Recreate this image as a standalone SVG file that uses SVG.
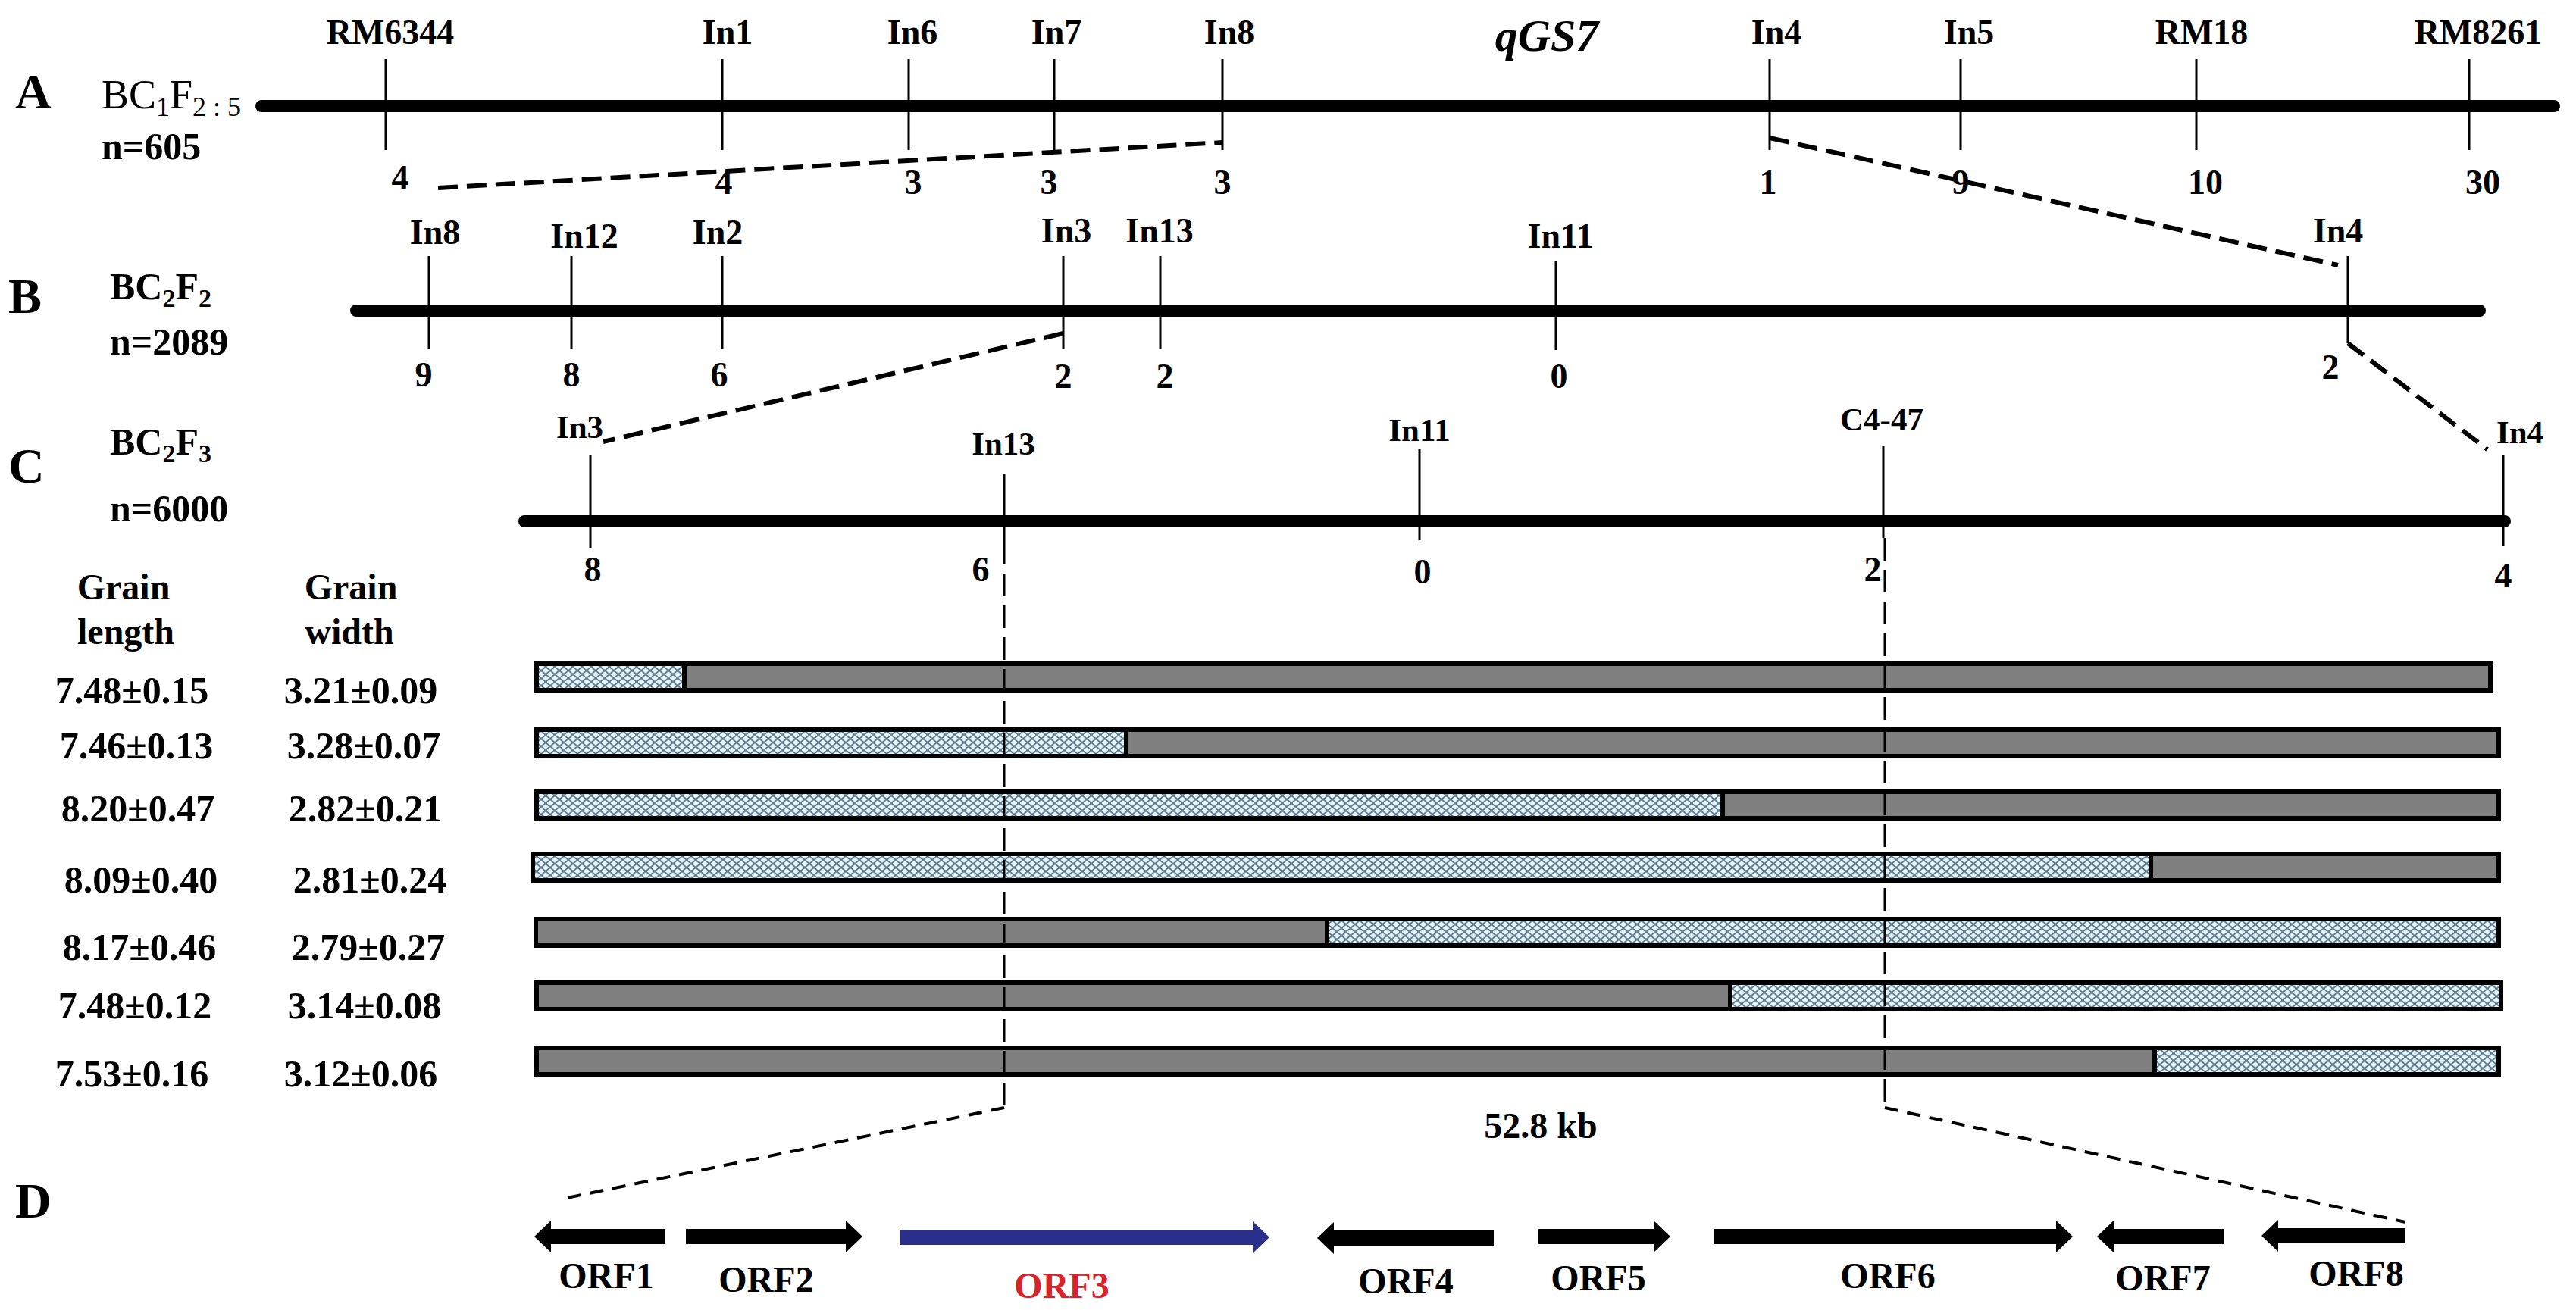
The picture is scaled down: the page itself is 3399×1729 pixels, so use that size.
<svg xmlns="http://www.w3.org/2000/svg" width="3399" height="1729" viewBox="0 0 3399 1729">
<style>
text{font-family:"Liberation Serif","Times New Roman",serif;font-weight:bold;fill:#000}
.lab{font-size:46px;text-anchor:middle}
.labc{font-size:43px;text-anchor:middle}
.num{font-size:46px;text-anchor:middle}
.sec{font-size:66px}
.val{font-size:50px;text-anchor:middle}
.hdr{font-size:48px;text-anchor:middle}
.orf{font-size:48px;text-anchor:middle}
.chrom{stroke:#000;stroke-width:16;stroke-linecap:round;fill:none}
.tick{stroke:#000;stroke-width:3;fill:none}
.dash{stroke:#000;stroke-width:6;stroke-dasharray:26 12;fill:none}
.vdash{stroke:#000;stroke-width:3;stroke-dasharray:30 12;fill:none}
.ddash{stroke:#000;stroke-width:4;stroke-dasharray:18 12;fill:none}
.gray{fill:#7f7f7f;stroke:#000;stroke-width:6}
.hat{fill:url(#hatch);stroke:#000;stroke-width:6}
.arr{fill:#000}
</style>
<defs>
<pattern id="hatch" patternUnits="userSpaceOnUse" width="12" height="10">
<rect width="12" height="10" fill="#e4f4fb"/>
<path d="M0,0 L12,10 M0,10 L12,0" stroke="#5f7a8a" stroke-width="1.8"/>
</pattern>
</defs>
<rect width="3399" height="1729" fill="#fff"/>

<!-- Panel A -->
<g id="panelA-title">
<text class="sec" x="20" y="143">A</text>
<text x="134" y="143" style="font-size:54px;font-weight:normal">BC<tspan dy="10" style="font-size:36px">1</tspan><tspan dy="-10">F</tspan><tspan dy="10" style="font-size:36px">2 : 5</tspan></text>
<text x="134" y="210" style="font-size:50px">n=605</text>
<text x="2041" y="67" style="font-size:60px;font-style:italic;text-anchor:middle">qGS7</text>
</g>
<line id="chromA" class="chrom" x1="345" y1="140" x2="3370" y2="140"/>
<g id="A-RM6344"><line class="tick" x1="509" y1="78" x2="509" y2="198"/><text class="lab" x="515" y="58">RM6344</text><text class="num" x="528" y="250">4</text></g>
<g id="A-In1"><line class="tick" x1="953" y1="78" x2="953" y2="198"/><text class="lab" x="960" y="58">In1</text><text class="num" x="955" y="256">4</text></g>
<g id="A-In6"><line class="tick" x1="1199" y1="78" x2="1199" y2="198"/><text class="lab" x="1204" y="58">In6</text><text class="num" x="1205" y="256">3</text></g>
<g id="A-In7"><line class="tick" x1="1391" y1="78" x2="1391" y2="198"/><text class="lab" x="1394" y="58">In7</text><text class="num" x="1384" y="256">3</text></g>
<g id="A-In8"><line class="tick" x1="1613" y1="78" x2="1613" y2="198"/><text class="lab" x="1622" y="58">In8</text><text class="num" x="1613" y="256">3</text></g>
<g id="A-In4"><line class="tick" x1="2335" y1="78" x2="2335" y2="198"/><text class="lab" x="2344" y="58">In4</text><text class="num" x="2333" y="256">1</text></g>
<g id="A-In5"><line class="tick" x1="2587" y1="78" x2="2587" y2="198"/><text class="lab" x="2598" y="58">In5</text><text class="num" x="2587" y="256">9</text></g>
<g id="A-RM18"><line class="tick" x1="2898" y1="78" x2="2898" y2="198"/><text class="lab" x="2905" y="58">RM18</text><text class="num" x="2910" y="256">10</text></g>
<g id="A-RM8261"><line class="tick" x1="3258" y1="78" x2="3258" y2="198"/><text class="lab" x="3270" y="58">RM8261</text><text class="num" x="3276" y="256">30</text></g>

<!-- Panel B -->
<g id="panelB-title">
<text class="sec" x="11" y="413">B</text>
<text x="145" y="395" style="font-size:50px">BC<tspan dy="10" style="font-size:34px">2</tspan><tspan dy="-10">F</tspan><tspan dy="10" style="font-size:34px">2</tspan></text>
<text x="145" y="468" style="font-size:50px">n=2089</text>
</g>
<line id="chromB" class="chrom" x1="470" y1="410" x2="3272" y2="410"/>
<g id="B-In8"><line class="tick" x1="566" y1="338" x2="566" y2="460"/><text class="lab" x="574" y="322">In8</text><text class="num" x="559" y="510">9</text></g>
<g id="B-In12"><line class="tick" x1="754" y1="338" x2="754" y2="460"/><text class="lab" x="771" y="327">In12</text><text class="num" x="754" y="510">8</text></g>
<g id="B-In2"><line class="tick" x1="953" y1="338" x2="953" y2="460"/><text class="lab" x="947" y="322">In2</text><text class="num" x="949" y="510">6</text></g>
<g id="B-In3"><line class="tick" x1="1403" y1="338" x2="1403" y2="460"/><text class="lab" x="1407" y="320">In3</text><text class="num" x="1403" y="512">2</text></g>
<g id="B-In13"><line class="tick" x1="1531" y1="338" x2="1531" y2="460"/><text class="lab" x="1530" y="320">In13</text><text class="num" x="1537" y="512">2</text></g>
<g id="B-In11"><line class="tick" x1="2053" y1="345" x2="2053" y2="462"/><text class="lab" x="2059" y="327">In11</text><text class="num" x="2057" y="512">0</text></g>
<g id="B-In4"><line class="tick" x1="3098" y1="338" x2="3098" y2="453"/><text class="lab" x="3085" y="320">In4</text><text class="num" x="3075" y="500">2</text></g>

<!-- Panel C -->
<g id="panelC-title">
<text class="sec" x="11" y="637">C</text>
<text x="145" y="600" style="font-size:50px">BC<tspan dy="10" style="font-size:34px">2</tspan><tspan dy="-10">F</tspan><tspan dy="10" style="font-size:34px">3</tspan></text>
<text x="145" y="688" style="font-size:50px">n=6000</text>
</g>
<line id="chromC" class="chrom" x1="692" y1="688" x2="3305" y2="688"/>
<g id="C-In3"><line class="tick" x1="779" y1="600" x2="779" y2="723"/><text class="labc" x="765" y="578">In3</text><text class="num" x="782" y="767">8</text></g>
<g id="C-In13"><line class="tick" x1="1325" y1="625" x2="1325" y2="715"/><text class="labc" x="1324" y="600">In13</text><text class="num" x="1294" y="767">6</text></g>
<g id="C-In11"><line class="tick" x1="1873" y1="593" x2="1873" y2="713"/><text class="labc" x="1873" y="582">In11</text><text class="num" x="1877" y="770">0</text></g>
<g id="C-C4-47"><line class="tick" x1="2485" y1="588" x2="2485" y2="710"/><text class="labc" x="2483" y="568">C4-47</text><text class="num" x="2471" y="767">2</text></g>
<g id="C-In4"><line class="tick" x1="3303" y1="600" x2="3303" y2="720"/><text class="labc" x="3325" y="585">In4</text><text class="num" x="3303" y="775">4</text></g>

<!-- Table headers and values -->
<g id="table">
<text class="hdr" x="163" y="791">Grain</text>
<text class="hdr" x="166" y="850">length</text>
<text class="hdr" x="463" y="791">Grain</text>
<text class="hdr" x="461" y="850">width</text>
<text class="val" x="174" y="928">7.48±0.15</text><text class="val" x="476" y="928">3.21±0.09</text>
<text class="val" x="180" y="1001">7.46±0.13</text><text class="val" x="480" y="1001">3.28±0.07</text>
<text class="val" x="182" y="1084">8.20±0.47</text><text class="val" x="482" y="1084">2.82±0.21</text>
<text class="val" x="186" y="1178">8.09±0.40</text><text class="val" x="488" y="1178">2.81±0.24</text>
<text class="val" x="184" y="1267">8.17±0.46</text><text class="val" x="486" y="1267">2.79±0.27</text>
<text class="val" x="178" y="1344">7.48±0.12</text><text class="val" x="481" y="1344">3.14±0.08</text>
<text class="val" x="174" y="1434">7.53±0.16</text><text class="val" x="476" y="1434">3.12±0.06</text>
</g>

<!-- Genotype bars -->
<g id="bar1"><rect class="gray" x="903" y="876" width="2383" height="35"/><rect class="hat" x="708" y="876" width="195" height="35"/></g>
<g id="bar2"><rect class="gray" x="1486" y="963" width="1811" height="35"/><rect class="hat" x="708" y="963" width="778" height="35"/></g>
<g id="bar3"><rect class="gray" x="2273" y="1045" width="1024" height="35"/><rect class="hat" x="708" y="1045" width="1565" height="35"/></g>
<g id="bar4"><rect class="gray" x="2838" y="1127" width="459" height="35"/><rect class="hat" x="703" y="1127" width="2135" height="35"/></g>
<g id="bar5"><rect class="gray" x="707" y="1213" width="1044" height="35"/><rect class="hat" x="1751" y="1213" width="1546" height="35"/></g>
<g id="bar6"><rect class="gray" x="708" y="1297" width="1575" height="35"/><rect class="hat" x="2283" y="1297" width="1017" height="35"/></g>
<g id="bar7"><rect class="gray" x="708" y="1383" width="2135" height="35"/><rect class="hat" x="2843" y="1383" width="454" height="35"/></g>

<text id="size-label" x="2033" y="1502" style="font-size:48px;text-anchor:middle">52.8 kb</text>

<!-- Panel D -->
<text id="panelD-title" class="sec" x="20" y="1607">D</text>
<g id="ORF1"><path class="arr" d="M878,1622 H727 V1611 L705,1632 L727,1653 V1642 H878 Z"/><text class="orf" x="800" y="1700">ORF1</text></g>
<g id="ORF2"><path class="arr" d="M905,1622 H1116 V1611 L1138,1632 L1116,1653 V1642 H905 Z"/><text class="orf" x="1011" y="1705">ORF2</text></g>
<g id="ORF3"><path d="M1187,1623 H1653 V1612 L1675,1633 L1653,1654 V1643 H1187 Z" fill="#2b2f8c"/><text class="orf" x="1401" y="1713" style="fill:#d8232a">ORF3</text></g>
<g id="ORF4"><path class="arr" d="M1971,1624 H1760 V1613 L1738,1634 L1760,1655 V1644 H1971 Z"/><text class="orf" x="1855" y="1707">ORF4</text></g>
<g id="ORF5"><path class="arr" d="M2030,1622 H2182 V1611 L2204,1632 L2182,1653 V1642 H2030 Z"/><text class="orf" x="2109" y="1703">ORF5</text></g>
<g id="ORF6"><path class="arr" d="M2261,1622 H2713 V1611 L2735,1632 L2713,1653 V1642 H2261 Z"/><text class="orf" x="2491" y="1700">ORF6</text></g>
<g id="ORF7"><path class="arr" d="M2935,1622 H2789 V1611 L2767,1632 L2789,1653 V1642 H2935 Z"/><text class="orf" x="2854" y="1703">ORF7</text></g>
<g id="ORF8"><path class="arr" d="M3174,1621 H3006 V1610 L2984,1631 L3006,1652 V1641 H3174 Z"/><text class="orf" x="3109" y="1697">ORF8</text></g>

<!-- Connectors -->
<g id="connectors">
<line class="dash" x1="578" y1="248" x2="1613" y2="188"/>
<line class="dash" x1="2335" y1="182" x2="3085" y2="350"/>
<line class="dash" x1="1403" y1="440" x2="796" y2="583"/>
<line class="dash" x1="3098" y1="453" x2="3282" y2="593"/>
<line class="vdash" x1="1325" y1="715" x2="1325" y2="1462"/>
<line class="vdash" x1="2487" y1="710" x2="2487" y2="1462"/>
<line class="ddash" x1="1325" y1="1462" x2="743" y2="1582"/>
<line class="ddash" x1="2487" y1="1462" x2="3174" y2="1613"/>
</g>
</svg>
